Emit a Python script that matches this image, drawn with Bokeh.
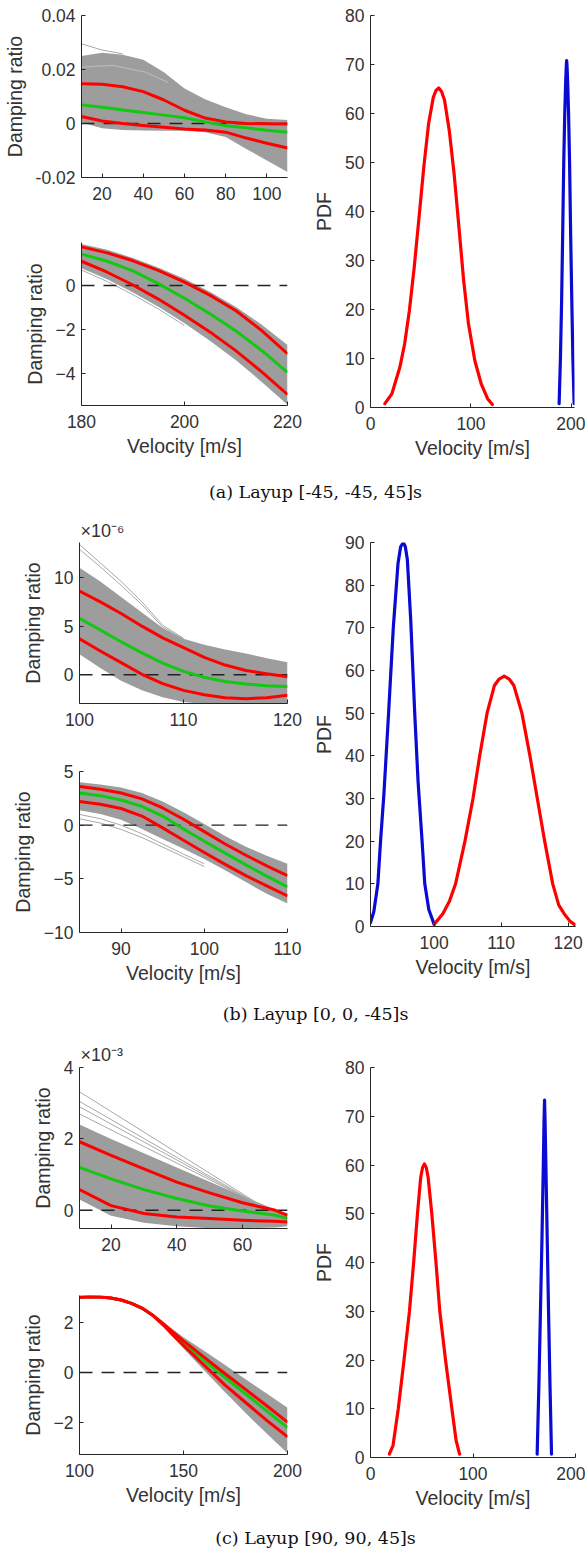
from bokeh.plotting import figure
from bokeh.layouts import column, row
from bokeh.models import Range1d, FixedTicker, Label, Title
from bokeh.embed import file_html
from bokeh.resources import INLINE

# ============ DATA ============
stability_boundary = 0.0

# ---- (a) Layup [-45,-45,45]s ----
a_top_v = [10, 20, 30, 40, 50, 60, 70, 80, 90, 100, 110]
a_top_red_hi = [0.0147, 0.0145, 0.0136, 0.0118, 0.0087, 0.0049, 0.0020, 0.0006, 0.0000, -0.0001, -0.0002]
a_top_mean = [0.0069, 0.0060, 0.0050, 0.0041, 0.0031, 0.0021, 0.0006, -0.0008, -0.0016, -0.0025, -0.0032]
a_top_red_lo = [0.0026, 0.0009, 0.0000, -0.0007, -0.0014, -0.0020, -0.0024, -0.0032, -0.0054, -0.0073, -0.0091]
a_top_band_hi = [0.0250, 0.0262, 0.0255, 0.0236, 0.0190, 0.0130, 0.0090, 0.0060, 0.0034, 0.0018, 0.0013]
a_top_band_lo = [0.0004, -0.0018, -0.0024, -0.0026, -0.0027, -0.0027, -0.0032, -0.0050, -0.0094, -0.0137, -0.0180]
a_top_out_v = [10, 20, 30]
a_top_out = [0.0295, 0.0272, 0.0258]
a_top_streak_v = [10, 25, 41, 52]
a_top_streak = [0.0209, 0.0215, 0.0190, 0.0153]
a_top_xrange = (10, 110)
a_top_yrange = (-0.02, 0.04)
a_top_xticks = [20, 40, 60, 80, 100]
a_top_yticks = [-0.02, 0.0, 0.02, 0.04]
a_top_ylabels = ["-0.02", "0", "0.02", "0.04"]

a_bot_v = [180, 185, 190, 195, 200, 205, 210, 215, 220]
a_bot_red_hi = [1.75, 1.48, 1.12, 0.67, 0.15, -0.45, -1.15, -2.05, -3.10]
a_bot_mean = [1.42, 1.10, 0.66, 0.07, -0.58, -1.30, -2.07, -2.95, -3.95]
a_bot_red_lo = [1.10, 0.60, 0.02, -0.63, -1.35, -2.12, -2.97, -3.92, -4.95]
a_bot_band_hi = [1.88, 1.62, 1.25, 0.80, 0.30, -0.30, -0.98, -1.78, -2.70]
a_bot_band_lo = [0.78, 0.28, -0.32, -0.98, -1.72, -2.52, -3.40, -4.38, -5.42]
a_bot_out_v = [180, 185, 190, 195, 200]
a_bot_out = [0.70, 0.18, -0.42, -1.08, -1.82]
a_bot_xrange = (180, 220)
a_bot_yrange = (-5.45, 1.95)
a_bot_xticks = [180, 200, 220]
a_bot_yticks = [-4, -2, 0]

a_pdf_red_v = [14.3, 21.3, 29.2, 34.0, 38.7, 43.5, 48.3, 53.0, 57.8, 62.5, 65.2, 67.9, 70.7, 73.7,
               78.4, 83.2, 88.0, 92.7, 97.5, 103.8, 110.2, 116.5, 121.3]
a_pdf_red = [0.8, 2.8, 8.2, 13.0, 19.8, 28.6, 38.8, 49.0, 57.9, 63.3, 64.7, 65.2, 64.5, 62.7,
             56.5, 47.7, 36.8, 25.9, 17.1, 9.6, 4.8, 1.8, 0.6]
a_pdf_blue_v = [187.7, 189.0, 190.2, 191.2, 192.3, 193.3, 194.3, 194.8, 195.2, 195.6, 196.1, 197.1,
                198.1, 199.2, 200.3, 201.4, 202.6]
a_pdf_blue = [0.8, 10, 22, 35, 50, 60, 67, 69.6, 70.8, 69.6, 67, 60, 50, 35, 22, 10, 0.8]
a_pdf_xrange = (0, 203)
a_pdf_yrange = (0, 80)
a_pdf_xticks = [0, 100, 200]
a_pdf_yticks = [0, 10, 20, 30, 40, 50, 60, 70, 80]

# ---- (b) Layup [0,0,-45]s ----  (top panel values in units of 1e-6)
b_top_v = [100, 102, 104, 106, 108, 110, 112, 114, 116, 118, 120]
b_top_red_hi = [8.6, 7.5, 6.3, 5.0, 3.8, 2.8, 1.8, 1.0, 0.45, 0.1, -0.2]
b_top_mean = [5.8, 4.6, 3.4, 2.25, 1.2, 0.35, -0.25, -0.68, -0.95, -1.12, -1.2]
b_top_red_lo = [3.7, 2.45, 1.25, 0.05, -0.9, -1.6, -2.05, -2.35, -2.45, -2.35, -2.1]
b_top_band_hi = [11.0, 9.6, 8.0, 6.4, 4.8, 3.7, 3.1, 2.6, 2.2, 1.7, 1.3]
b_top_band_lo = [2.1, 0.7, -0.6, -1.6, -2.3, -2.8, -3.0, -3.0, -3.0, -3.0, -2.9]
b_top_out_v = [100, 102, 104, 106, 108, 110]
b_top_out1 = [13.4, 11.5, 9.6, 7.5, 5.1, 3.75]
b_top_out2 = [12.9, 11.1, 9.2, 7.2, 4.9, 3.7]
b_top_xrange = (100, 120)
b_top_yrange = (-2.95, 13.6)
b_top_xticks = [100, 110, 120]
b_top_yticks = [0, 5, 10]
b_top_scale = "\u00d710\u207b\u2076"

b_bot_v = [85, 87.5, 90, 92.5, 95, 97.5, 100, 102.5, 105, 107.5, 110]
b_bot_red_hi = [3.6, 3.35, 3.0, 2.45, 1.6, 0.55, -0.6, -1.75, -2.8, -3.8, -4.7]
b_bot_mean = [3.0, 2.75, 2.35, 1.75, 0.85, -0.35, -1.5, -2.6, -3.7, -4.75, -5.75]
b_bot_red_lo = [2.2, 1.95, 1.55, 0.85, -0.25, -1.4, -2.55, -3.65, -4.7, -5.65, -6.6]
b_bot_band_hi = [4.0, 3.8, 3.5, 3.0, 2.2, 1.2, 0.1, -1.0, -2.0, -2.85, -3.6]
b_bot_band_lo = [1.4, 1.05, 0.5, -0.35, -1.3, -2.2, -3.15, -4.2, -5.3, -6.4, -7.3]
b_bot_out_v = [85, 87.5, 90, 92.5, 95, 97.5, 100]
b_bot_out1 = [1.0, 0.6, 0.0, -0.8, -1.75, -2.7, -3.6]
b_bot_out2 = [0.6, 0.2, -0.4, -1.15, -2.05, -2.95, -3.85]
b_bot_xrange = (85, 110)
b_bot_yrange = (-10, 5)
b_bot_xticks = [90, 100, 110]
b_bot_yticks = [-10, -5, 0, 5]

b_pdf_blue_v = [90.5, 91.0, 91.6, 92.0, 92.5, 93.2, 93.9, 94.6, 95.0, 95.4, 95.7, 96.0, 96.5, 97.1,
                97.6, 98.2, 98.6, 99.2, 100.0]
b_pdf_blue = [0.9, 3.5, 10, 20, 31, 50, 70, 85, 89, 90, 89, 86, 72, 50, 34, 20, 10, 4, 0.5]
b_pdf_red_v = [100.0, 101.3, 102.3, 103.2, 104.6, 105.8, 106.8, 107.9, 109.0, 109.7, 110.45, 111.2,
               111.9, 113.1, 114.3, 115.4, 116.5, 117.7, 118.6, 119.4, 120.3, 121.1]
b_pdf_red = [0.5, 3, 6, 10, 20, 30, 40, 50, 56.5, 58.0, 58.7, 58.0, 56.5, 50, 40, 30, 20, 10, 5, 3,
             1.2, 0.3]
b_pdf_xrange = (90.5, 121.1)
b_pdf_yrange = (0, 90)
b_pdf_xticks = [100, 110, 120]
b_pdf_yticks = [0, 10, 20, 30, 40, 50, 60, 70, 80, 90]

# ---- (c) Layup [90,90,45]s ----  (top panel values in units of 1e-3)
c_top_v = [10.4, 20, 30, 40, 50, 60, 70, 73.7]
c_top_red_hi = [1.92, 1.54, 1.16, 0.79, 0.49, 0.21, 0.0, -0.14]
c_top_mean = [1.20, 0.88, 0.58, 0.33, 0.12, -0.02, -0.14, -0.23]
c_top_red_lo = [0.58, 0.13, -0.09, -0.19, -0.23, -0.28, -0.31, -0.33]
c_top_band_hi = [2.40, 2.00, 1.60, 1.20, 0.80, 0.40, 0.02, -0.08]
c_top_band_lo = [0.30, -0.15, -0.35, -0.45, -0.50, -0.50, -0.48, -0.45]
c_top_out_v = [10.4, 68, 73.7]
c_top_out1 = [3.32, 0.0, -0.1]
c_top_out2 = [3.05, 0.0, -0.1]
c_top_out3 = [2.90, 0.0, -0.1]
c_top_out4 = [2.70, 0.02, -0.1]
c_top_xrange = (10.4, 73.7)
c_top_yrange = (-0.51, 4.0)
c_top_xticks = [20, 40, 60]
c_top_yticks = [0, 2, 4]
c_top_scale = "\u00d710\u207b\u00b3"

c_bot_v = [100, 105, 110, 115, 120, 125, 130, 135, 140, 145, 150, 160, 170, 180, 190, 200]
c_bot_red_hi = [2.98, 3.0, 2.99, 2.95, 2.87, 2.74, 2.55, 2.28, 1.95, 1.6, 1.25, 0.6, -0.05, -0.68, -1.32, -1.97]
c_bot_mean = [2.98, 3.0, 2.99, 2.95, 2.87, 2.74, 2.55, 2.28, 1.93, 1.55, 1.17, 0.48, -0.2, -0.86, -1.52, -2.18]
c_bot_red_lo = [2.98, 3.0, 2.99, 2.95, 2.87, 2.74, 2.55, 2.28, 1.9, 1.48, 1.07, 0.28, -0.5, -1.2, -1.9, -2.55]
c_bot_band_hi = [2.98, 3.0, 2.99, 2.95, 2.87, 2.74, 2.55, 2.3, 2.0, 1.7, 1.4, 0.85, 0.3, -0.28, -0.83, -1.4]
c_bot_band_lo = [2.98, 3.0, 2.99, 2.95, 2.87, 2.74, 2.55, 2.26, 1.85, 1.4, 0.95, 0.08, -0.78, -1.62, -2.42, -3.2]
c_bot_xrange = (100, 200)
c_bot_yrange = (-3.25, 3.05)
c_bot_xticks = [100, 150, 200]
c_bot_yticks = [-2, 0, 2]

c_pdf_red_v = [18.4, 22.0, 27.1, 32.7, 38.0, 42.1, 45.8, 49.0, 50.8, 52.6, 54.4, 56.2, 59.8, 63.9,
               67.6, 73.2, 79.4, 83.5, 86.9]
c_pdf_red = [0.7, 2.5, 10, 20, 30, 40, 50, 57.5, 59.5, 60.2, 59.5, 57.5, 50, 40, 30, 20, 10, 3.5, 0.7]
c_pdf_blue_v = [162.6, 164.3, 165.8, 167.3, 168.6, 169.3, 169.8, 170.3, 171.1, 172.4, 173.7, 175.1, 176.6]
c_pdf_blue = [0.7, 15, 30, 45, 60, 69, 73.3, 69, 60, 45, 30, 15, 0.7]
c_pdf_xrange = (0, 200)
c_pdf_yrange = (0, 80)
c_pdf_xticks = [0, 100, 200]
c_pdf_yticks = [0, 10, 20, 30, 40, 50, 60, 70, 80]

captions = ["(a) Layup [-45, -45, 45]s", "(b) Layup [0, 0, -45]s", "(c) Layup [90, 90, 45]s"]
y_label = "Damping ratio"
x_label = "Velocity [m/s]"
pdf_label = "PDF"

# ============ STYLE ============
FONT = "Liberation Sans"
TICK_SIZE = "17.5px"
LABEL_SIZE = "19.5px"
TXT = "#333333"
AXIS = "#262626"
RED = "#ff0000"
GREEN = "#12c812"
BLUE = "#0a0ad2"
BAND = "#9d9d9d"
OUTLINE = "#a8a8a8"
STREAK = "#b8b8b8"


def make_fig(w, h, xr, yr, l, r, t, b):
    p = figure(width=w, height=h, x_range=Range1d(*xr), y_range=Range1d(*yr),
               output_backend="svg", toolbar_location=None,
               min_border_left=l, min_border_right=r, min_border_top=t, min_border_bottom=b)
    p.outline_line_color = None
    p.xgrid.visible = False
    p.ygrid.visible = False
    p.border_fill_color = "white"
    p.background_fill_color = "white"
    return p


def style(p, xticks, yticks, xlabel=None, ylabel=None, yover=None):
    p.xaxis.ticker = FixedTicker(ticks=xticks)
    p.yaxis.ticker = FixedTicker(ticks=yticks)
    if yover:
        p.yaxis.major_label_overrides = yover
    for ax in list(p.xaxis) + list(p.yaxis):
        ax.axis_line_color = AXIS
        ax.axis_line_width = 1
        ax.major_tick_line_color = AXIS
        ax.major_tick_in = 4
        ax.major_tick_out = 0
        ax.minor_tick_line_color = None
        ax.major_label_text_font = FONT
        ax.major_label_text_font_size = TICK_SIZE
        ax.major_label_text_color = TXT
        ax.axis_label_text_font = FONT
        ax.axis_label_text_font_size = LABEL_SIZE
        ax.axis_label_text_color = TXT
        ax.axis_label_text_font_style = "normal"
    for ax in p.xaxis:
        ax.major_label_standoff = 9
        ax.axis_label_standoff = 4
    for ax in p.yaxis:
        ax.major_label_standoff = 6
        ax.axis_label_standoff = 7
    if xlabel:
        p.xaxis.axis_label = xlabel
    if ylabel:
        p.yaxis.axis_label = ylabel


def bundle(p, v, band_hi, band_lo, mean, red_hi, red_lo, outliers, xr, streaks=()):
    p.varea(x=v, y1=band_lo, y2=band_hi, fill_color=BAND, fill_alpha=1.0)
    for sv, sy in streaks:
        p.line(sv, sy, line_color=STREAK, line_width=1.2)
    for ov, oy in outliers:
        p.line(ov, oy, line_color=OUTLINE, line_width=1)
    p.line(list(xr), [stability_boundary, stability_boundary], line_color="#222222",
           line_width=1.4, line_dash="13 9")
    p.line(v, mean, line_color=GREEN, line_width=3, line_join="round")
    p.line(v, red_hi, line_color=RED, line_width=3, line_join="round")
    p.line(v, red_lo, line_color=RED, line_width=3, line_join="round")


def pdf(p, curves):
    for v, y, c in curves:
        p.line(v, y, line_color=c, line_width=3.2, line_join="round", line_cap="round")


def exponent(p, text, standoff):
    t = Title(text=text, align="left", offset=1, standoff=standoff, text_font=FONT,
              text_font_size="18px", text_color=TXT, text_font_style="normal")
    p.add_layout(t, "above")


def caption(h, center_from_top, text):
    p = figure(width=585, height=h, x_range=Range1d(0, 585), y_range=Range1d(0, h),
               output_backend="svg", toolbar_location=None,
               x_axis_location=None, y_axis_location=None,
               min_border_left=0, min_border_right=0, min_border_top=0, min_border_bottom=0)
    p.outline_line_color = None
    p.xgrid.visible = False
    p.ygrid.visible = False
    p.add_layout(Label(x=315, y=h - center_from_top, text=text, text_font="DejaVu Serif",
                       text_font_size="17.5px", text_color="#111111", text_align="center",
                       text_baseline="middle"))
    return p


# ============ (a) ============
ta = make_fig(310, 215, a_top_xrange, a_top_yrange, 79, 23, 15, 38)
bundle(ta, a_top_v, a_top_band_hi, a_top_band_lo, a_top_mean, a_top_red_hi, a_top_red_lo,
       [(a_top_out_v, a_top_out)], a_top_xrange, [(a_top_streak_v, a_top_streak)])
style(ta, a_top_xticks, a_top_yticks, ylabel=y_label,
      yover=dict(zip(a_top_yticks, a_top_ylabels)))

ba = make_fig(310, 255, a_bot_xrange, a_bot_yrange, 79, 23, 27, 65)
bundle(ba, a_bot_v, a_bot_band_hi, a_bot_band_lo, a_bot_mean, a_bot_red_hi, a_bot_red_lo,
       [(a_bot_out_v, a_bot_out)], a_bot_xrange)
style(ba, a_bot_xticks, a_bot_yticks, xlabel=x_label, ylabel=y_label)

ra = make_fig(275, 470, a_pdf_xrange, a_pdf_yrange, 51, 11, 15, 63)
pdf(ra, [(a_pdf_red_v, a_pdf_red, RED), (a_pdf_blue_v, a_pdf_blue, BLUE)])
style(ra, a_pdf_xticks, a_pdf_yticks, xlabel=x_label, ylabel=pdf_label)

sec_a = column(row(column(ta, ba), ra), caption(45, 21, captions[0]))

# ============ (b) ============
tb = make_fig(310, 225, b_top_xrange, b_top_yrange, 79, 23, 27, 37)
bundle(tb, b_top_v, b_top_band_hi, b_top_band_lo, b_top_mean, b_top_red_hi, b_top_red_lo,
       [(b_top_out_v, b_top_out1), (b_top_out_v, b_top_out2)], b_top_xrange)
style(tb, b_top_xticks, b_top_yticks, ylabel=y_label)
exponent(tb, b_top_scale, 3)

bb = make_fig(310, 255, b_bot_xrange, b_bot_yrange, 79, 23, 31, 63)
bundle(bb, b_bot_v, b_bot_band_hi, b_bot_band_lo, b_bot_mean, b_bot_red_hi, b_bot_red_lo,
       [(b_bot_out_v, b_bot_out1), (b_bot_out_v, b_bot_out2)], b_bot_xrange)
style(bb, b_bot_xticks, b_bot_yticks, xlabel=x_label, ylabel=y_label)

rb = make_fig(275, 480, b_pdf_xrange, b_pdf_yrange, 51, 10, 27, 69)
pdf(rb, [(b_pdf_blue_v, b_pdf_blue, BLUE), (b_pdf_red_v, b_pdf_red, RED)])
style(rb, b_pdf_xticks, b_pdf_yticks, xlabel=x_label, ylabel=pdf_label)

sec_b = column(row(column(tb, bb), rb), caption(40, 18, captions[1]))

# ============ (c) ============
tc = make_fig(310, 230, c_top_xrange, c_top_yrange, 79, 23, 32, 37)
bundle(tc, c_top_v, c_top_band_hi, c_top_band_lo, c_top_mean, c_top_red_hi, c_top_red_lo,
       [(c_top_out_v, c_top_out1), (c_top_out_v, c_top_out2),
        (c_top_out_v, c_top_out3), (c_top_out_v, c_top_out4)], c_top_xrange)
style(tc, c_top_xticks, c_top_yticks, ylabel=y_label)
exponent(tc, c_top_scale, 6)

bc = make_fig(310, 255, c_bot_xrange, c_bot_yrange, 79, 23, 30, 66)
bundle(bc, c_bot_v, c_bot_band_hi, c_bot_band_lo, c_bot_mean, c_bot_red_hi, c_bot_red_lo,
       [], c_bot_xrange)
style(bc, c_bot_xticks, c_bot_yticks, xlabel=x_label, ylabel=y_label)

rc = make_fig(275, 485, c_pdf_xrange, c_pdf_yrange, 51, 10, 32, 63)
pdf(rc, [(c_pdf_red_v, c_pdf_red, RED), (c_pdf_blue_v, c_pdf_blue, BLUE)])
style(rc, c_pdf_xticks, c_pdf_yticks, xlabel=x_label, ylabel=pdf_label)

sec_c = column(row(column(tc, bc), rc), caption(31, 17, captions[2]))

page = column(sec_a, sec_b, sec_c)
open("out.html", "w").write(file_html(page, INLINE))
